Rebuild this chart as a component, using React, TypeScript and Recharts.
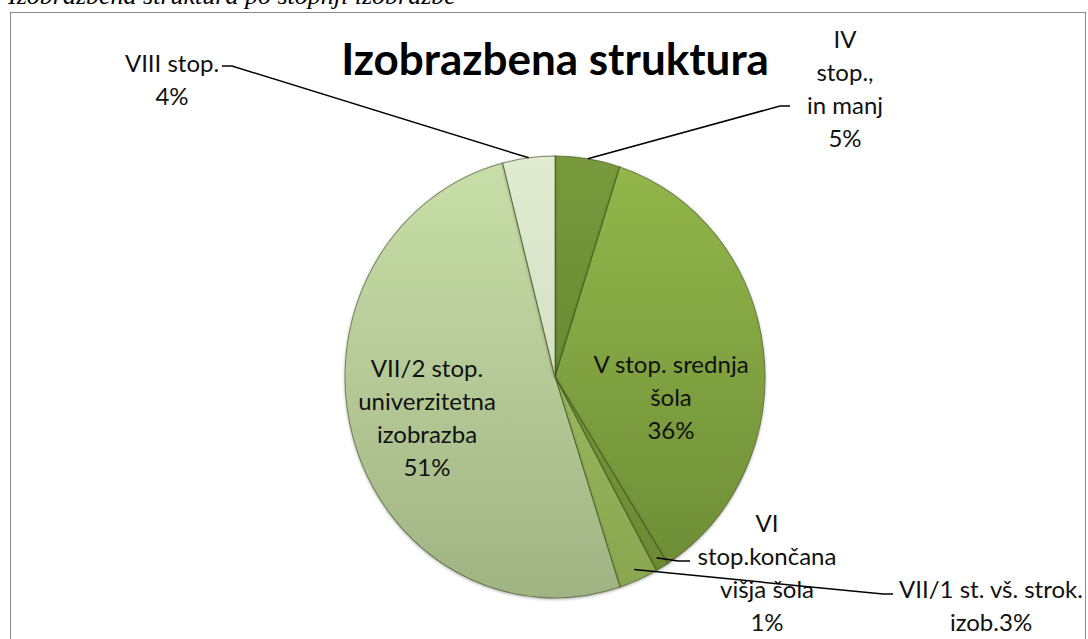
import { PieChart, Pie, Cell } from 'recharts'

const CATEGORIES = [
  'IV stop., in manj',
  'V stop. srednja šola',
  'VI stop.končana višja šola',
  'VII/1 st. vš. strok. izob.',
  'VII/2 stop. univerzitetna izobrazba',
  'VIII stop.',
]
const VALUES = [5, 36, 1, 3, 51, 4]
const LABEL_LINES = [
  ['IV', 'stop.,', 'in manj'],
  ['V stop. srednja', 'šola'],
  ['VI', 'stop.končana', 'višja šola'],
  ['VII/1 st. vš. strok.', 'izob.'],
  ['VII/2 stop.', 'univerzitetna', 'izobrazba'],
  ['VIII stop.'],
]

const data = CATEGORIES.map((name, i) => ({ name, value: VALUES[i], lines: LABEL_LINES[i] }))

const GRAD = [
  ['#789a3c', '#5b7a2a'],
  ['#93b74b', '#6c8b35'],
  ['#86a843', '#6a8832'],
  ['#a9c86b', '#89a54f'],
  ['#c9dfa9', '#a0b483'],
  ['#e0ebd2', '#c9d6b6'],
]

const CX = 555
const CY = 377
const R = 210
const SY = 1.052
const LINE_H = 33
const FONT = 'Lato, "Open Sans", sans-serif'

// label placement relative to the pie centre
const LAYOUT = [
  { tx: 290, ty: -339, elbow: [225, -271], end: [235, -271], edge: 1, inline: false },
  { tx: 116, ty: -14, inline: false },
  { tx: 212, ty: 145, elbow: [123, 184], end: [135, 184], edge: 0.95, inline: false },
  { tx: 436, ty: 211, elbow: [328, 217], end: [338, 217], edge: 0.95, inline: true },
  { tx: -128, ty: -10, inline: false },
  { tx: -383, ty: -315, elbow: [-323, -311], end: [-333, -311], edge: 1, inline: false },
]

const RAD = Math.PI / 180

function renderLabel(props: any) {
  const { cx, cy, midAngle, outerRadius, index, percent, payload } = props
  const lay = LAYOUT[index]
  const pct = `${Math.round(percent * 100)}%`
  const src: string[] = (payload && payload.lines) || LABEL_LINES[index]
  const lines = lay.inline
    ? [...src.slice(0, -1), src[src.length - 1] + pct]
    : [...src, pct]
  let leader = null
  if (lay.elbow) {
    const r = outerRadius * lay.edge
    const ex = cx + r * Math.cos(-midAngle * RAD)
    const ey = cy + r * SY * Math.sin(-midAngle * RAD)
    leader = (
      <polyline
        points={`${ex},${ey} ${cx + lay.elbow[0]},${cy + lay.elbow[1]} ${cx + lay.end[0]},${cy + lay.end[1]}`}
        fill="none"
        stroke="#000"
        strokeWidth={1.5}
      />
    )
  }
  return (
    <g key={`lbl-${index}`}>
      {leader}
      {lines.map((t, k) => (
        <text
          key={k}
          x={cx + lay.tx}
          y={cy + lay.ty + k * LINE_H}
          textAnchor="middle"
          dominantBaseline="central"
          fontFamily={FONT}
          fontSize={24}
          fill="#111"
        >
          {t}
        </text>
      ))}
    </g>
  )
}

export default function App() {
  return (
    <div style={{ position: 'absolute', left: 0, top: 0, width: 1088, height: 639, overflow: 'hidden', background: '#fff' }}>
      <style>{`.recharts-pie path.recharts-sector { transform: scaleY(${SY}); transform-origin: ${CX}px ${CY}px; filter: drop-shadow(0px 1.5px 1.5px rgba(0,0,0,0.35)); }`}</style>
      <div
        style={{
          position: 'absolute', left: 8, top: -17, whiteSpace: 'nowrap',
          fontFamily: '"Liberation Serif", "Times New Roman", serif', fontStyle: 'italic',
          fontSize: 26, lineHeight: '26px', color: '#000',
        }}
      >
        Izobrazbena struktura po stopnji izobrazbe
      </div>
      <div
        style={{
          position: 'absolute', left: 10, top: 12, width: 1076, height: 700,
          border: '1.5px solid #8a8a8a', boxSizing: 'border-box',
        }}
      />
      <div
        style={{
          position: 'absolute', left: 0, top: 32, width: CX * 2, textAlign: 'center',
          fontFamily: FONT, fontWeight: 700, fontSize: 44, lineHeight: '52px', color: '#000',
        }}
      >
        Izobrazbena struktura
      </div>
      <div style={{ position: 'absolute', left: 0, top: 0 }}>
        <PieChart width={1088} height={639} margin={{ top: 0, right: 0, bottom: 0, left: 0 }}>
          <defs>
            {GRAD.map((g, i) => (
              <linearGradient key={i} id={`g${i}`} gradientUnits="userSpaceOnUse" x1={0} y1={CY - R} x2={0} y2={CY + R}>
                <stop offset="0%" stopColor={g[0]} />
                <stop offset="100%" stopColor={g[1]} />
              </linearGradient>
            ))}
          </defs>
          <Pie
            data={data}
            dataKey="value"
            nameKey="name"
            cx={CX}
            cy={CY}
            outerRadius={R}
            startAngle={90}
            endAngle={-270}
            stroke="rgba(60,80,25,0.6)"
            strokeWidth={1}
            label={renderLabel}
            labelLine={false}
            isAnimationActive={false}
          >
            {data.map((d, i) => (
              <Cell key={d.name} fill={`url(#g${i})`} />
            ))}
          </Pie>
        </PieChart>
      </div>
    </div>
  )
}
